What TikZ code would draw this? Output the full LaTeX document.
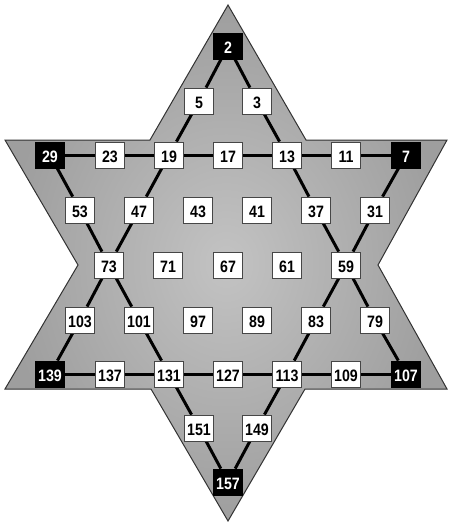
\documentclass[tikz,border=0pt]{standalone}
\usepackage{fontspec}
\setmainfont{Liberation Sans}
\newfontfamily\boxfont[FakeStretch=0.86]{Liberation Sans}
\definecolor{starin}{RGB}{195,195,195}
\definecolor{starout}{RGB}{158,158,158}
\definecolor{starline}{RGB}{50,50,50}
\definecolor{boxline}{RGB}{70,70,70}
\pgfdeclarelayer{back}
\pgfdeclarelayer{mid}
\pgfsetlayers{back,mid,main}
\begin{document}
\begin{tikzpicture}[x=1pt,y=-1pt,
  cell/.style={draw=boxline,line width=0.8pt,fill=white,text=black,
    minimum width=29pt,minimum height=26pt,inner sep=0pt,
    text height=14.6pt,text depth=0pt,
    font=\boxfont\fontsize{16.5}{16.5}\selectfont\bfseries},
  dark/.style={cell,fill=black,text=white,draw=black},
  link/.style={line width=3pt,black}]
\useasboundingbox (0,0) rectangle (449,524);
% star
\begin{pgfonlayer}{back}
\shade[inner color=starin,outer color=starout,draw=starline,line width=1pt]
  (228,5) -- (306,140) -- (447,140) -- (378,265) -- (447,389) -- (305,389)
  -- (228,521) -- (151,389) -- (5,389) -- (78,265) -- (5,140) -- (150,140) -- cycle;
\end{pgfonlayer}
% nodes
\node[dark] (n2) at (228,46) {2};
\node[cell] (n5) at (199,101) {5};
\node[cell] (n3) at (257,101) {3};
\node[dark] (n29) at (50,155) {29};
\node[cell] (n23) at (110,155) {23};
\node[cell] (n19) at (169,155) {19};
\node[cell] (n17) at (228,155) {17};
\node[cell] (n13) at (287,155) {13};
\node[cell] (n11) at (346,155) {11};
\node[dark] (n7) at (406,155) {7};
\node[cell] (n53) at (80,210) {53};
\node[cell] (n47) at (139,210) {47};
\node[cell] (n43) at (198,210) {43};
\node[cell] (n41) at (257,210) {41};
\node[cell] (n37) at (316,210) {37};
\node[cell] (n31) at (375,210) {31};
\node[cell] (n73) at (109,265) {73};
\node[cell] (n71) at (168,265) {71};
\node[cell] (n67) at (228,265) {67};
\node[cell] (n61) at (287,265) {61};
\node[cell] (n59) at (346,265) {59};
\node[cell] (n103) at (80,320) {103};
\node[cell] (n101) at (139,320) {101};
\node[cell] (n97) at (198,320) {97};
\node[cell] (n89) at (257,320) {89};
\node[cell] (n83) at (316,320) {83};
\node[cell] (n79) at (375,320) {79};
\node[dark] (n139) at (50,374) {139};
\node[cell] (n137) at (110,374) {137};
\node[cell] (n131) at (169,374) {131};
\node[cell] (n127) at (228,374) {127};
\node[cell] (n113) at (287,374) {113};
\node[cell] (n109) at (346,374) {109};
\node[dark] (n107) at (406,374) {107};
\node[cell] (n151) at (199,428) {151};
\node[cell] (n149) at (257,428) {149};
\node[dark] (n157) at (228,482) {157};
% links (behind nodes)
\begin{pgfonlayer}{mid}
\foreach \a/\b in {n2/n5,n5/n19,n19/n47,n47/n73,n73/n103,n103/n139,
  n2/n3,n3/n13,n13/n37,n37/n59,n59/n79,n79/n107,
  n139/n137,n137/n131,n131/n127,n127/n113,n113/n109,n109/n107,
  n29/n23,n23/n19,n19/n17,n17/n13,n13/n11,n11/n7,
  n29/n53,n53/n73,n73/n101,n101/n131,n131/n151,n151/n157,
  n7/n31,n31/n59,n59/n83,n83/n113,n113/n149,n149/n157}
  \draw[link] (\a) -- (\b);
\end{pgfonlayer}
\end{tikzpicture}
\end{document}
